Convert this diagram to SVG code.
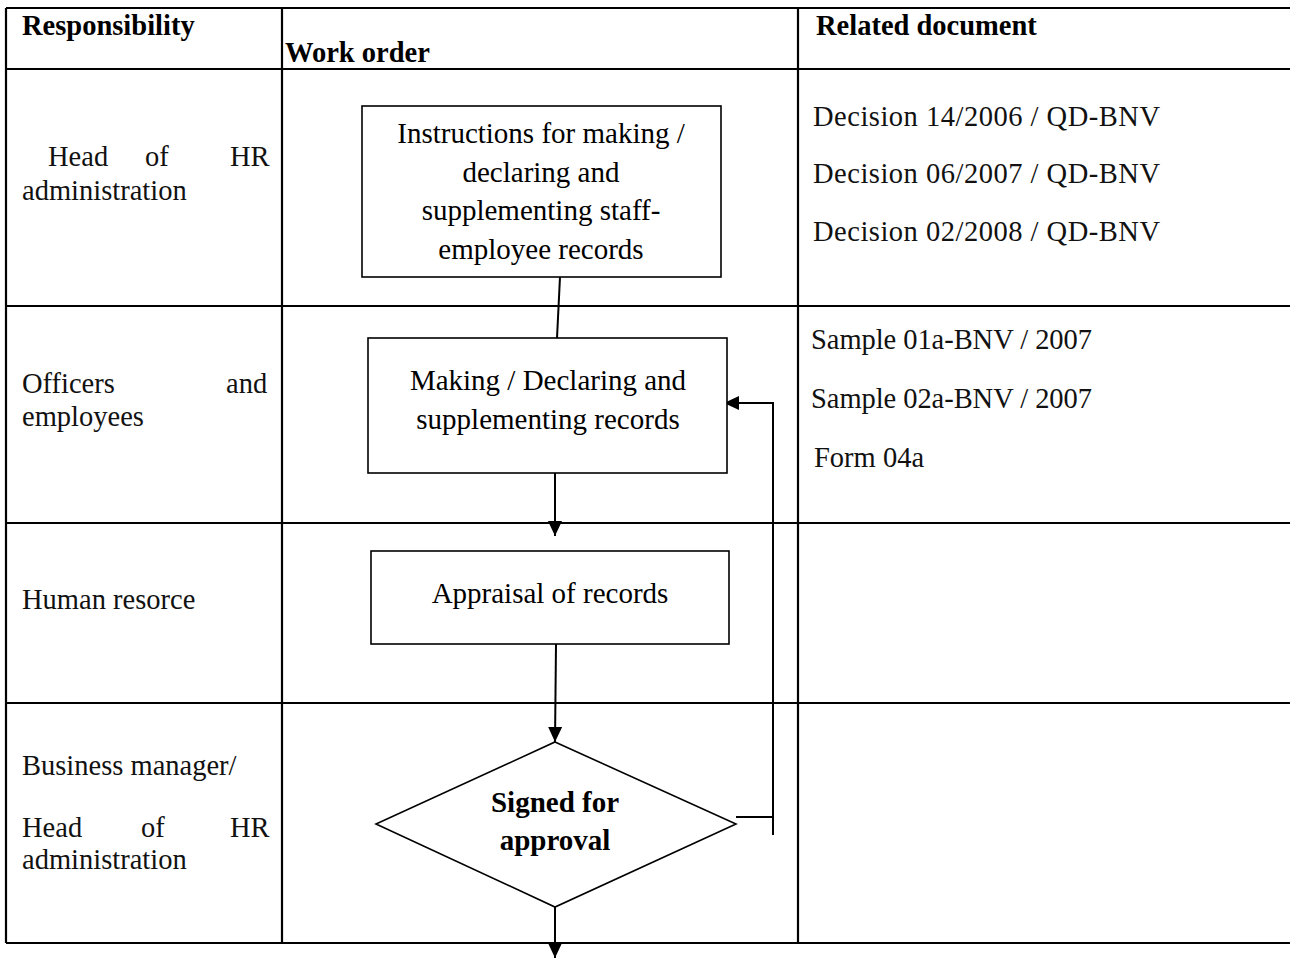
<svg xmlns="http://www.w3.org/2000/svg" width="1290" height="959" viewBox="0 0 1290 959">
<style>
.grid{stroke:#000;stroke-width:2.2;fill:none}
.box{stroke:#000;stroke-width:1.6;fill:#fff}
.conn{stroke:#000;stroke-width:2;fill:none}
.hd{font-family:"Liberation Serif",serif;font-weight:bold;font-size:28.5px;fill:#000}
.gt{font-family:"Liberation Serif",serif;font-size:28.5px;fill:#111}
.bt{font-family:"Liberation Serif",serif;font-size:29px;fill:#000;text-anchor:middle}
.dt{font-family:"Liberation Serif",serif;font-weight:bold;font-size:29px;fill:#000;text-anchor:middle}
</style>
<defs>
<marker id="ah" markerUnits="userSpaceOnUse" markerWidth="16" markerHeight="16" viewBox="0 0 16 16" refX="15" refY="8" orient="auto">
<path d="M0,1 L15,8 L0,15 Z" fill="#000"/>
</marker>
</defs>
<rect width="1290" height="959" fill="#fff"/>
<g id="table">
<line class="grid" x1="6" y1="8" x2="1290" y2="8"/>
<line class="grid" x1="6" y1="69" x2="1290" y2="69"/>
<line class="grid" x1="6" y1="306" x2="1290" y2="306"/>
<line class="grid" x1="6" y1="523" x2="1290" y2="523"/>
<line class="grid" x1="6" y1="703" x2="1290" y2="703"/>
<line class="grid" x1="6" y1="943" x2="1290" y2="943"/>
<line class="grid" x1="6" y1="8" x2="6" y2="943"/>
<line class="grid" x1="282" y1="8" x2="282" y2="943"/>
<line class="grid" x1="798" y1="8" x2="798" y2="943"/>
<text class="hd" x="22" y="35">Responsibility</text>
<text class="hd" x="285" y="62">Work order</text>
<text class="hd" x="816" y="35">Related document</text>
<text class="gt" x="48" y="166">Head</text>
<text class="gt" x="145" y="166">of</text>
<text class="gt" x="230" y="166">HR</text>
<text class="gt" x="22" y="200">administration</text>
<text class="gt" x="22" y="393">Officers</text>
<text class="gt" x="226" y="393">and</text>
<text class="gt" x="22" y="426">employees</text>
<text class="gt" x="22" y="609">Human resorce</text>
<text class="gt" x="22" y="775">Business manager/</text>
<text class="gt" x="22" y="837">Head</text>
<text class="gt" x="141" y="837">of</text>
<text class="gt" x="230" y="837">HR</text>
<text class="gt" x="22" y="869">administration</text>
<text class="gt" x="813" y="126" textLength="347" lengthAdjust="spacing">Decision 14/2006 / QD-BNV</text>
<text class="gt" x="813" y="183" textLength="347" lengthAdjust="spacing">Decision 06/2007 / QD-BNV</text>
<text class="gt" x="813" y="241" textLength="347" lengthAdjust="spacing">Decision 02/2008 / QD-BNV</text>
<text class="gt" x="811" y="349" textLength="281" lengthAdjust="spacing">Sample 01a-BNV / 2007</text>
<text class="gt" x="811" y="408" textLength="281" lengthAdjust="spacing">Sample 02a-BNV / 2007</text>
<text class="gt" x="814" y="467">Form 04a</text>
</g>
<g id="connectors">
<line class="conn" x1="560" y1="277" x2="557" y2="338"/>
<line class="conn" x1="555" y1="473" x2="555" y2="536" marker-end="url(#ah)"/>
<line class="conn" x1="556" y1="644" x2="555" y2="742" marker-end="url(#ah)"/>
<line class="conn" x1="555" y1="907" x2="555" y2="958" marker-end="url(#ah)"/>
<line class="conn" x1="736" y1="817" x2="773" y2="817"/>
<line class="conn" x1="773" y1="835" x2="773" y2="403"/>
<line class="conn" x1="774" y1="403" x2="724" y2="403" marker-end="url(#ah)"/>
</g>
<g id="n1">
<rect class="box" x="362" y="106" width="359" height="171"/>
<text class="bt" x="541" y="143">Instructions for making /</text>
<text class="bt" x="541" y="182">declaring and</text>
<text class="bt" x="541" y="220">supplementing staff-</text>
<text class="bt" x="541" y="259">employee records</text>
</g>
<g id="n2">
<rect class="box" x="368" y="338" width="359" height="135"/>
<text class="bt" x="548" y="390">Making / Declaring and</text>
<text class="bt" x="548" y="429">supplementing records</text>
</g>
<g id="n3">
<rect class="box" x="371" y="551" width="358" height="93"/>
<text class="bt" x="550" y="603">Appraisal of records</text>
</g>
<g id="n4">
<polygon class="box" points="555,742 736,824 555,907 376,824"/>
<text class="dt" x="555" y="812">Signed for</text>
<text class="dt" x="555" y="850">approval</text>
</g>
</svg>
